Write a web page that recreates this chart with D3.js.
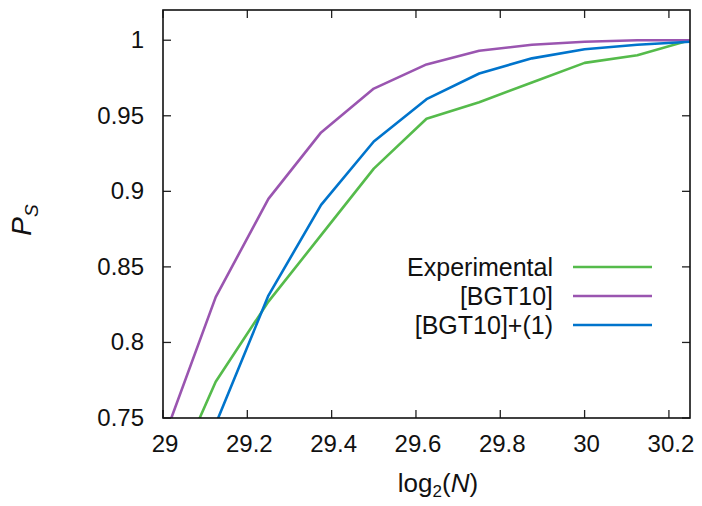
<!DOCTYPE html>
<html>
<head>
<meta charset="utf-8">
<script src="https://cdn.jsdelivr.net/npm/d3@7"></script>
<style>
  html, body { margin: 0; padding: 0; background: #fff; }
  svg text { font-family: "Liberation Sans", "DejaVu Sans", sans-serif; fill: #111; }
</style>
</head>
<body>
<div id="chart"></div>
<script>
  'use strict';

  // log2(N) sample points
  var xValues = [29, 29.125, 29.25, 29.375, 29.5, 29.625, 29.75, 29.875, 30, 30.125, 30.25];

  var experimental = [0.695, 0.774, 0.827, 0.871, 0.915, 0.948, 0.959, 0.972, 0.985, 0.990, 1.000];
  var bgt10        = [0.735, 0.830, 0.895, 0.939, 0.968, 0.984, 0.993, 0.997, 0.999, 1.000, 1.000];
  var bgt10plus1   = [0.660, 0.746, 0.831, 0.891, 0.933, 0.961, 0.978, 0.988, 0.994, 0.997, 0.999];

  var seriesNames = ['Experimental', '[BGT10]', '[BGT10]+(1)'];
  var seriesColors = ['#55bb4b', '#9a55b0', '#0074cc'];

  var xTicks = [29, 29.2, 29.4, 29.6, 29.8, 30, 30.2];
  var yTicks = [0.75, 0.8, 0.85, 0.9, 0.95, 1];

  var width = 702, height = 506;

  var area = {
    left: 163,
    top: 10,
    right: 690,
    bottom: 418,
  };

  var svg = d3.select('#chart')
    .append('svg')
      .attr('width', width)
      .attr('height', height);

  var x = d3.scaleLinear()
    .domain([29, 30.25])
    .range([area.left, area.right]);

  var y = d3.scaleLinear()
    .domain([0.75, 1.02])
    .range([area.bottom, area.top]);

  // clip the curves to the plot frame
  svg.append('defs').append('clipPath')
    .attr('id', 'plotClip')
  .append('rect')
    .attr('x', area.left)
    .attr('y', area.top)
    .attr('width', area.right - area.left)
    .attr('height', area.bottom - area.top);

  var tickLen = 8;

  // ticks (mirrored on all four sides)
  var ticks = svg.append('g').attr('class', 'ticks')
    .attr('stroke', '#222')
    .attr('stroke-width', 1.3);

  xTicks.forEach(function(t) {
    ticks.append('line')
      .attr('x1', x(t)).attr('x2', x(t))
      .attr('y1', area.bottom).attr('y2', area.bottom - tickLen);
    ticks.append('line')
      .attr('x1', x(t)).attr('x2', x(t))
      .attr('y1', area.top).attr('y2', area.top + tickLen);
  });

  yTicks.forEach(function(t) {
    ticks.append('line')
      .attr('x1', area.left).attr('x2', area.left + tickLen)
      .attr('y1', y(t)).attr('y2', y(t));
    ticks.append('line')
      .attr('x1', area.right).attr('x2', area.right - tickLen)
      .attr('y1', y(t)).attr('y2', y(t));
  });

  // tick labels
  svg.append('g')
  .selectAll('text')
  .data(xTicks)
  .enter().append('text')
    .attr('x', function(d) { return x(d) + 2; })
    .attr('y', 452)
    .attr('text-anchor', 'middle')
    .style('font-size', '24px')
    .text(function(d) { return d3.format('')(d); });

  svg.append('g')
  .selectAll('text')
  .data(yTicks)
  .enter().append('text')
    .attr('x', 144)
    .attr('y', function(d) { return y(d) + 8; })
    .attr('text-anchor', 'end')
    .style('font-size', '24px')
    .text(function(d) { return d3.format('')(d); });

  // curves
  var allSeries = [experimental, bgt10, bgt10plus1];

  var lineGen = d3.line()
    .x(function(d, i) { return x(xValues[i]); })
    .y(function(d) { return y(d); });

  svg.append('g')
    .attr('clip-path', 'url(#plotClip)')
  .selectAll('path')
  .data(allSeries)
  .enter().append('path')
    .attr('d', function(d) { return lineGen(d); })
    .attr('fill', 'none')
    .attr('stroke', function(d, i) { return seriesColors[i]; })
    .attr('stroke-width', 2.6)
    .attr('stroke-linejoin', 'round');

  // frame
  svg.append('rect')
    .attr('x', area.left)
    .attr('y', area.top)
    .attr('width', area.right - area.left)
    .attr('height', area.bottom - area.top)
    .attr('fill', 'none')
    .attr('stroke', '#111')
    .attr('stroke-width', 1.6);

  // legend
  var legend = svg.append('g').attr('class', 'legend');
  var legendY = [267, 296, 325];

  seriesNames.forEach(function(name, i) {
    legend.append('text')
      .attr('x', 553)
      .attr('y', legendY[i] + 9)
      .attr('text-anchor', 'end')
      .style('font-size', '25px')
      .text(name);
    legend.append('line')
      .attr('x1', 573).attr('x2', 652)
      .attr('y1', legendY[i]).attr('y2', legendY[i])
      .attr('stroke', seriesColors[i])
      .attr('stroke-width', 2.6);
  });

  // axis titles
  var xTitle = svg.append('text')
    .attr('x', 438)
    .attr('y', 492)
    .attr('text-anchor', 'middle')
    .style('font-size', '26px');
  xTitle.append('tspan').text('log');
  xTitle.append('tspan').attr('dy', 5).style('font-size', '17px').text('2');
  xTitle.append('tspan').attr('dy', -5).text('(');
  xTitle.append('tspan').style('font-style', 'italic').text('N');
  xTitle.append('tspan').text(')');

  var yTitle = svg.append('text')
    .attr('transform', 'translate(31,220) rotate(-90)')
    .attr('text-anchor', 'middle')
    .style('font-size', '28px');
  yTitle.append('tspan').style('font-style', 'italic').text('P');
  yTitle.append('tspan').attr('dy', 7).style('font-size', '19px').style('font-style', 'italic').text('S');
</script>
</body>
</html>
